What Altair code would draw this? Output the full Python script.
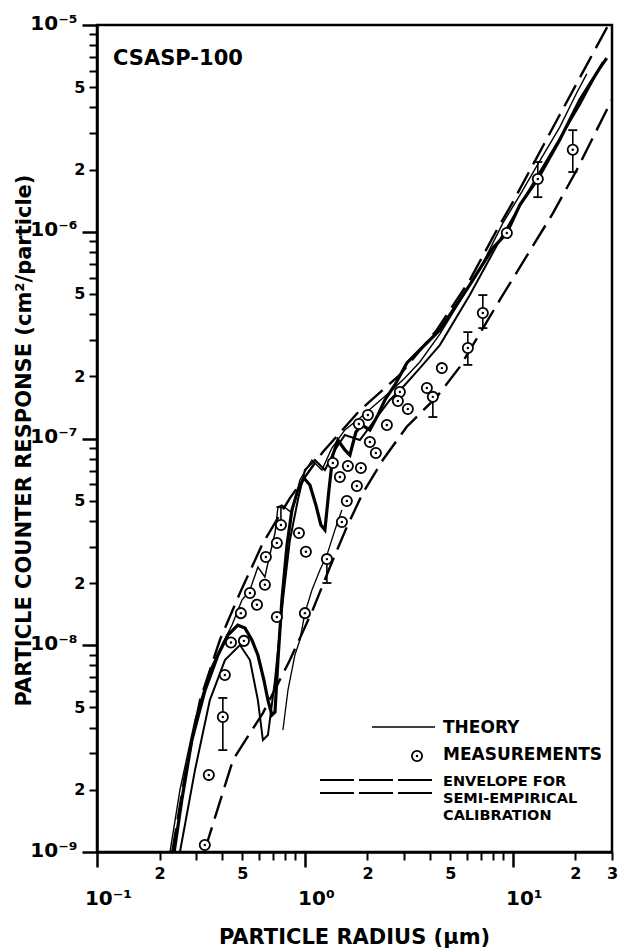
import altair as alt
import pandas as pd

FONT = "DejaVu Sans"

# ---------------- data ----------------
# Envelope for semi-empirical calibration (upper / lower)
env_up_x = [0.23, 0.265, 0.313, 0.39, 0.487, 0.628, 0.847, 1.22, 1.84, 2.86, 4.31, 6.21, 8.38, 10.0, 16.8, 28.3, 29.9]
env_up_y = [1.0e-9, 2.36e-9, 5.43e-9, 1.06e-8, 1.79e-8, 3.12e-8, 5.15e-8, 8.61e-8, 1.37e-7, 2.03e-7,
            3.35e-7, 5.84e-7, 1.02e-6, 1.39e-6, 3.67e-6, 9.68e-6, 1.0e-5]
env_lo_x = [0.33, 0.451, 0.628, 0.847, 1.09, 1.32, 1.59, 1.90, 2.37, 3.09, 4.31, 5.56, 8.66, 15.6, 20.3, 29.9]
env_lo_y = [1.02e-9, 2.79e-9, 4.7e-9, 8.48e-9, 1.48e-8, 2.39e-8, 3.73e-8, 5.45e-8, 7.87e-8, 1.14e-7,
            1.59e-7, 2.22e-7, 4.68e-7, 1.23e-6, 1.99e-6, 4.34e-6]

# Theory curves
th1_x = [0.235, 0.256, 0.286, 0.331, 0.382, 0.426, 0.476, 0.515, 0.556, 0.594, 0.635, 0.664, 0.694, 0.718,
         0.742, 0.775, 0.820, 0.866, 0.925, 0.989, 1.057, 1.129, 1.194, 1.248, 1.305, 1.363, 1.441, 1.557,
         1.646, 1.759, 1.879, 2.054, 2.244, 2.425, 2.708, 3.094, 3.572, 4.457, 6.21, 8.017, 9.36, 10.8,
         13.19, 16.8, 20.99, 26.2, 28.3]
th1_y = [1.0e-9, 1.79e-9, 3.48e-9, 6.07e-9, 8.97e-9, 1.12e-8, 1.25e-8, 1.21e-8, 1.06e-8, 8.97e-9, 6.79e-9,
         5.43e-9, 4.60e-9, 4.75e-9, 8.48e-9, 1.655e-8, 3.05e-8, 4.51e-8, 5.63e-8, 6.44e-8, 5.96e-8, 4.77e-8,
         3.82e-8, 3.61e-8, 5.63e-8, 8.32e-8, 9.83e-8, 8.80e-8, 8.32e-8, 1.075e-7, 1.162e-7, 1.10e-7, 1.30e-7,
         1.536e-7, 1.815e-7, 2.32e-7, 2.68e-7, 3.35e-7, 5.53e-7, 8.34e-7, 9.86e-7, 1.347e-6, 1.80e-6,
         2.78e-6, 4.34e-6, 6.19e-6, 6.92e-6]

th2_x = [0.2244, 0.2506, 0.296, 0.349, 0.399, 0.446, 0.498, 0.544, 0.594, 0.642, 0.664, 0.718, 0.742, 0.775,
         0.866, 0.946, 1.081, 1.207, 1.348, 1.557, 1.838, 2.170, 2.563, 3.025, 3.572, 4.457, 5.562, 6.942,
         8.953, 10.8, 13.48, 16.8, 20.31, 22.69]
th2_y = [1.0e-9, 1.995e-9, 4.35e-9, 7.59e-9, 1.003e-8, 1.253e-8, 1.655e-8, 1.85e-8, 2.39e-8, 2.14e-8, 2.50e-8,
         3.49e-8, 4.66e-8, 4.77e-8, 4.36e-8, 6.30e-8, 7.87e-8, 7.04e-8, 8.99e-8, 1.10e-7, 1.257e-7, 1.452e-7,
         1.679e-7, 1.962e-7, 2.344e-7, 3.2e-7, 4.6e-7, 6.6e-7, 1.1e-6, 1.5e-6, 2.2e-6, 3.2e-6, 4.7e-6, 5.8e-6]

th3_x = [0.2506, 0.296, 0.349, 0.4125, 0.487, 0.544, 0.594, 0.628, 0.664, 0.718, 0.784, 0.847, 0.925, 1.0,
         1.117, 1.248, 1.394, 1.557, 1.838, 2.170, 2.563, 3.025, 3.572, 4.457, 6.21, 8.66, 13.48, 20.99, 27.08]
th3_y = [1.0e-9, 2.49e-9, 5.43e-9, 8.48e-9, 1.003e-8, 8.48e-9, 5.43e-9, 3.48e-9, 3.68e-9, 6.79e-9, 1.655e-8,
         3.23e-8, 5.04e-8, 7.04e-8, 7.87e-8, 7.04e-8, 8.80e-8, 1.04e-7, 9.83e-8, 1.229e-7, 1.536e-7, 1.815e-7,
         2.19e-7, 2.83e-7, 4.94e-7, 9.12e-7, 1.945e-6, 4.10e-6, 6.62e-6]

th4_x = [0.784, 0.829, 0.895, 0.946, 1.0, 1.081, 1.181, 1.276, 1.394, 1.506]
th4_y = [3.89e-9, 6.07e-9, 8.97e-9, 1.06e-8, 1.432e-8, 1.85e-8, 2.31e-8, 2.73e-8, 3.61e-8, 4.51e-8]

# Measurements
meas_x = [0.33, 0.345, 0.403, 0.412, 0.441, 0.509, 0.492, 0.544, 0.588, 0.642, 0.733, 1.0, 0.649, 0.733,
          0.767, 0.936, 1.011, 1.276, 1.363, 1.609, 1.473, 1.859, 1.778, 1.591, 1.506, 2.054, 2.194, 1.818,
          2.479, 2.862, 2.80, 3.127, 3.86, 4.125, 4.557, 6.077, 7.175, 9.36, 13.19, 19.43, 2.009]
meas_y = [1.08e-9, 2.36e-9, 4.5e-9, 7.18e-9, 1.03e-8, 1.05e-8, 1.43e-8, 1.79e-8, 1.57e-8, 1.96e-8, 1.37e-8,
          1.43e-8, 2.67e-8, 3.12e-8, 3.82e-8, 3.49e-8, 2.83e-8, 2.61e-8, 7.61e-8, 7.36e-8, 6.51e-8, 7.2e-8,
          5.89e-8, 4.99e-8, 3.95e-8, 9.62e-8, 8.51e-8, 1.175e-7, 1.162e-7, 1.68e-7, 1.52e-7, 1.39e-7, 1.755e-7,
          1.59e-7, 2.19e-7, 2.74e-7, 4.05e-7, 9.86e-7, 1.8e-6, 2.49e-6, 1.30e-7]

# Error bars on some measurements
err_x = [0.403, 0.767, 1.276, 4.125, 6.077, 7.175, 13.19, 19.43]
err_lo = [3.11e-9, 3.82e-8, 2.0e-8, 1.27e-7, 2.27e-7, 3.42e-7, 1.47e-6, 1.945e-6]
err_hi = [5.56e-9, 4.66e-8, 2.61e-8, 1.59e-7, 3.27e-7, 4.94e-7, 2.175e-6, 3.10e-6]

# Axis ticks
x_minor_vals = [0.2, 0.3, 0.4, 0.5, 0.6, 0.7, 0.8, 0.9, 2, 3, 4, 5, 6, 7, 8, 9, 20, 30]
x_major_vals = [0.1, 1, 10]
y_minor_vals = [m * 10.0 ** e for e in (-9, -8, -7, -6) for m in range(2, 10)]
y_major_vals = [1e-9, 1e-8, 1e-7, 1e-6, 1e-5]

# ---------------- scales & axes ----------------
xscale = alt.Scale(type="log", domain=[0.1, 30], nice=False)
yscale = alt.Scale(type="log", domain=[1e-9, 1e-5], nice=False)

mant = "round(datum.value / pow(10, floor(log(datum.value) / LN10 + 1e-6)))"
x_minor_expr = f"({mant} == 2 || {mant} == 5 || datum.value > 25) ? '' + {mant} : ''"
y_minor_expr = f"({mant} == 2 || {mant} == 5) ? '' + {mant} : ''"

sup = {-9: "⁻⁹", -8: "⁻⁸", -7: "⁻⁷", -6: "⁻⁶", -5: "⁻⁵", -1: "⁻¹", 0: "⁰", 1: "¹"}
expo = "round(log(datum.value) / LN10)"
nested = "''"
for k, v in sup.items():
    nested = f"({expo} == {k} ? '{v}' : {nested})"
major_expr = f"'10' + {nested}"

common = dict(tickColor="black", labelColor="black", labelFont=FONT, labelFontWeight="bold",
              labelFlush=False, labelOverlap=False, grid=False)

x_minor_axis = alt.Axis(values=x_minor_vals, tickSize=8, tickWidth=2, domain=True, domainColor="black",
                        domainWidth=2.5, labelExpr=x_minor_expr, labelFontSize=16, labelPadding=5,
                        title=None, orient="bottom", **common)
y_minor_axis = alt.Axis(values=y_minor_vals, tickSize=8, tickWidth=2, domain=True, domainColor="black",
                        domainWidth=2.5, labelExpr=y_minor_expr, labelFontSize=16, labelPadding=4,
                        title=None, orient="left", **common)

x_major_axis = alt.Axis(values=x_major_vals, tickSize=15, tickWidth=2.5, domain=False,
                        labelExpr=major_expr, labelFontSize=20, labelPadding=21, labelOffset=11,
                        title="PARTICLE RADIUS (μm)", titleFont=FONT, titleFontSize=21,
                        titleFontWeight="bold", titleColor="black", titleX=257, titleY=85,
                        titleAlign="center", titleBaseline="middle", orient="bottom", **common)
y_major_axis = alt.Axis(values=y_major_vals, tickSize=15, tickWidth=2.5, domain=False,
                        labelExpr=major_expr, labelFontSize=20, labelPadding=5, labelOffset=-2,
                        labelBaseline="middle",
                        title="PARTICLE COUNTER RESPONSE (cm²/particle)", titleFont=FONT, titleFontSize=21,
                        titleFontWeight="bold", titleColor="black", titleX=-73, titleY=415, titleAngle=270,
                        titleAlign="center", titleBaseline="middle", orient="left", **common)


def X(field="x"):
    return alt.X(f"{field}:Q", scale=xscale, axis=x_minor_axis)


def Y(field="y"):
    return alt.Y(f"{field}:Q", scale=yscale, axis=y_minor_axis)


layers = []

# envelope lines
for ex, ey in ((env_up_x, env_up_y), (env_lo_x, env_lo_y)):
    df = pd.DataFrame({"x": ex, "y": ey})
    layers.append(alt.Chart(df).mark_line(color="black", strokeWidth=2.4, strokeDash=[24, 9])
                  .encode(x=X(), y=Y()))

# theory lines
for tx, ty, w in ((th2_x, th2_y, 1.4), (th3_x, th3_y, 2.0), (th4_x, th4_y, 1.3), (th1_x, th1_y, 3.2)):
    df = pd.DataFrame({"x": tx, "y": ty})
    layers.append(alt.Chart(df).mark_line(color="black", strokeWidth=w).encode(x=X(), y=Y()))

# error bars
err_df = pd.DataFrame({"x": err_x, "lo": err_lo, "hi": err_hi})
layers.append(alt.Chart(err_df).mark_rule(color="black", strokeWidth=1.6)
              .encode(x=X(), y=Y("lo"), y2="hi"))
for f in ("lo", "hi"):
    layers.append(alt.Chart(err_df).mark_tick(orient="horizontal", size=9, thickness=1.8, color="black",
                                             opacity=1).encode(x=X(), y=Y(f)))

# measurement symbols
meas_df = pd.DataFrame({"x": meas_x, "y": meas_y})
layers.append(alt.Chart(meas_df).mark_point(shape="circle", filled=True, fill="white", stroke="black",
                                            strokeWidth=1.8, size=105, opacity=1).encode(x=X(), y=Y()))
layers.append(alt.Chart(meas_df).mark_circle(color="black", size=6, opacity=1).encode(x=X(), y=Y()))

# ---------------- in-plot legend and label ----------------
one = pd.DataFrame({"a": [0]})
base = alt.Chart(one)
layers.append(base.mark_rule(color="black", strokeWidth=1.6)
              .encode(x=alt.value(275), x2=alt.value(338), y=alt.value(702)))
for yy in (755, 768):
    layers.append(base.mark_rule(color="black", strokeWidth=2.2, strokeDash=[34, 5])
                  .encode(x=alt.value(223), x2=alt.value(338), y=alt.value(yy)))
layers.append(base.mark_point(shape="circle", filled=True, fill="white", stroke="black", strokeWidth=1.8,
                              size=105, opacity=1).encode(x=alt.value(320), y=alt.value(731)))
layers.append(base.mark_circle(color="black", size=6, opacity=1)
              .encode(x=alt.value(320), y=alt.value(731)))

legend_text = [("THEORY", 703, 17), ("MEASUREMENTS", 730, 17), ("ENVELOPE  FOR", 757, 14.5),
               ("SEMI-EMPIRICAL", 774, 14.5), ("CALIBRATION", 791, 14.5)]
for txt, yy, fs in legend_text:
    layers.append(base.mark_text(align="left", baseline="middle", font=FONT, fontWeight="bold",
                                 fontSize=fs, color="black")
                  .encode(x=alt.value(346), y=alt.value(yy), text=alt.value(txt)))

layers.append(base.mark_text(align="left", baseline="middle", font=FONT, fontWeight="bold",
                             fontSize=21, color="black")
              .encode(x=alt.value(16), y=alt.value(34), text=alt.value("CSASP-100")))

inner = alt.layer(*layers)

carrier = alt.Chart(pd.DataFrame({"x": [1.0], "y": [1e-7]})).mark_point(opacity=0).encode(
    x=alt.X("x:Q", scale=xscale, axis=x_major_axis),
    y=alt.Y("y:Q", scale=yscale, axis=y_major_axis),
)

chart = alt.layer(inner, carrier).resolve_scale(x="independent", y="independent").properties(
    width=515, height=827,
    padding={"left": 97, "top": 25, "right": 7, "bottom": 98},
    autosize=alt.AutoSizeParams(type="none"),
    background="white",
).configure_view(stroke="black", strokeWidth=2.5)

chart.save("out.html", embed_options={"renderer": "svg", "actions": False})
